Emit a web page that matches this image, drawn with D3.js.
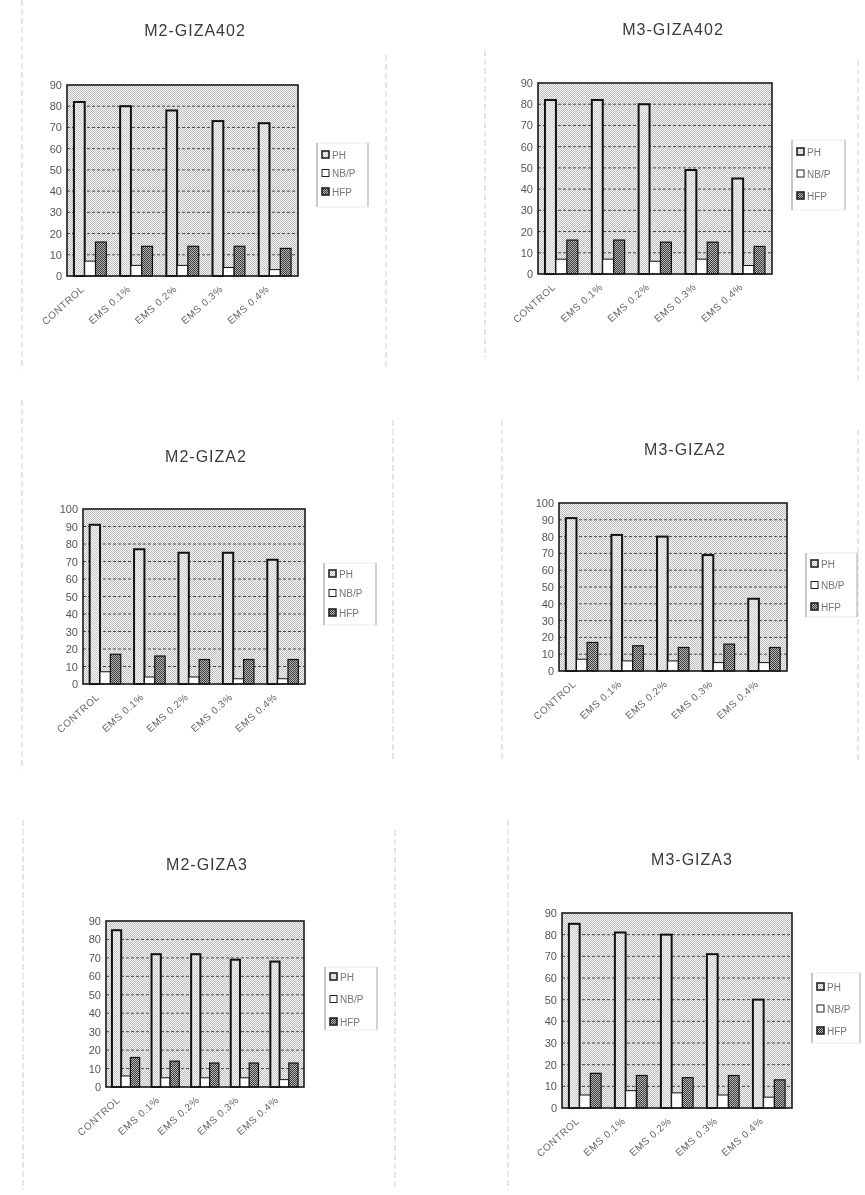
<!DOCTYPE html>
<html>
<head>
<meta charset="utf-8">
<script src="https://cdn.jsdelivr.net/npm/d3@7"></script>
<style>
  body { margin: 0; background: #fff; }
  svg { display: block; font-family: 'Liberation Sans', Arial, sans-serif; will-change: transform; }
</style>
</head>
<body>
<div id="chart"></div>
<script>
// categories and series
let categories = ['CONTROL', 'EMS 0.1%', 'EMS 0.2%', 'EMS 0.3%', 'EMS 0.4%']
let seriesNames = ['PH', 'NB/P', 'HFP']

// values
let m2Giza402PH = [82, 80, 78, 73, 72]
let m2Giza402NBP = [7, 5, 5, 4, 3]
let m2Giza402HFP = [16, 14, 14, 14, 13]

let m3Giza402PH = [82, 82, 80, 49, 45]
let m3Giza402NBP = [7, 7, 6, 7, 4]
let m3Giza402HFP = [16, 16, 15, 15, 13]

let m2Giza2PH = [91, 77, 75, 75, 71]
let m2Giza2NBP = [7, 4, 4, 3, 3]
let m2Giza2HFP = [17, 16, 14, 14, 14]

let m3Giza2PH = [91, 81, 80, 69, 43]
let m3Giza2NBP = [7, 6, 6, 5, 5]
let m3Giza2HFP = [17, 15, 14, 16, 14]

let m2Giza3PH = [85, 72, 72, 69, 68]
let m2Giza3NBP = [6, 5, 5, 5, 4]
let m2Giza3HFP = [16, 14, 13, 13, 13]

let m3Giza3PH = [85, 81, 80, 71, 50]
let m3Giza3NBP = [6, 8, 7, 6, 5]
let m3Giza3HFP = [16, 15, 14, 15, 13]

let titles = ['M2-GIZA402', 'M3-GIZA402', 'M2-GIZA2', 'M3-GIZA2', 'M2-GIZA3', 'M3-GIZA3']
let yMaxes = [90, 90, 100, 100, 90, 90]

let charts = [
  { title: titles[0], yMax: yMaxes[0], values: [m2Giza402PH, m2Giza402NBP, m2Giza402HFP] },
  { title: titles[1], yMax: yMaxes[1], values: [m3Giza402PH, m3Giza402NBP, m3Giza402HFP] },
  { title: titles[2], yMax: yMaxes[2], values: [m2Giza2PH, m2Giza2NBP, m2Giza2HFP] },
  { title: titles[3], yMax: yMaxes[3], values: [m3Giza2PH, m3Giza2NBP, m3Giza2HFP] },
  { title: titles[4], yMax: yMaxes[4], values: [m2Giza3PH, m2Giza3NBP, m2Giza3HFP] },
  { title: titles[5], yMax: yMaxes[5], values: [m3Giza3PH, m3Giza3NBP, m3Giza3HFP] }
]

// page layout of each little chart (plot box, title, legend)
let layout = [
  { box: [67, 298, 85, 276], title: [195, 36], legend: [317, 143, 51, 64, 12, 18.5] },
  { box: [538, 772, 83, 274], title: [673, 35], legend: [792, 140, 53, 70, 12, 22] },
  { box: [83, 305, 509, 684], title: [206, 462], legend: [324, 563, 52, 62, 11, 19.5] },
  { box: [559, 787, 503, 671], title: [685, 455], legend: [806, 553, 51, 64, 11, 21.5] },
  { box: [106, 304, 921, 1087], title: [207, 870], legend: [325, 967, 52, 63, 10, 22.5] },
  { box: [562, 792, 913, 1108], title: [692, 865], legend: [812, 973, 48, 70, 14, 22] }
]

// faint page frame lines from the scan
let frames = [
  [22, 0, 370], [386, 55, 370], [485, 50, 357], [858, 60, 380],
  [22, 400, 770], [393, 420, 760], [502, 420, 760], [858, 430, 760],
  [23, 820, 1190], [395, 830, 1190], [508, 820, 1190]
]

let svg = d3
  .select('#chart')
  .append('svg')
  .attr('width', 865)
  .attr('height', 1195)

let defs = svg.append('defs')

function checker(id, light, dark, size) {
  let p = defs
    .append('pattern')
    .attr('id', id)
    .attr('patternUnits', 'userSpaceOnUse')
    .attr('width', size * 2)
    .attr('height', size * 2)
  p.append('rect').attr('width', size * 2).attr('height', size * 2).attr('fill', light)
  p.append('rect').attr('width', size).attr('height', size).attr('fill', dark)
  p.append('rect').attr('x', size).attr('y', size).attr('width', size).attr('height', size).attr('fill', dark)
}
checker('bg-dots', '#f7f7f7', '#bdbdbd', 1)
checker('ph-dots', '#fafafa', '#c6c6c6', 1)
checker('hfp-hatch', '#b8b8b8', '#3a3a3a', 1)

let fills = { 'PH': 'url(#ph-dots)', 'NB/P': '#ffffff', 'HFP': 'url(#hfp-hatch)' }
let strokes = { 'PH': 2, 'NB/P': 1, 'HFP': 1.2 }

svg
  .selectAll('.frame')
  .data(frames)
  .enter()
  .append('line')
  .attr('class', 'frame')
  .attr('x1', d => d[0])
  .attr('x2', d => d[0])
  .attr('y1', d => d[1])
  .attr('y2', d => d[2])
  .attr('stroke', '#cfcfcf')
  .attr('stroke-width', 1)
  .attr('stroke-dasharray', '6,3')

charts.forEach((chart, i) => drawChart(chart, layout[i]))

function drawChart(chart, lay) {
  let [x0, x1, y0, y1] = lay.box
  let width = x1 - x0
  let height = y1 - y0

  let g = svg.append('g').attr('transform', 'translate(' + x0 + ',' + y0 + ')')

  let xPositionScale = d3
    .scaleBand()
    .domain(categories)
    .range([0, width])
    .paddingInner(0.3)
    .paddingOuter(0.15)

  let xSeriesScale = d3
    .scaleBand()
    .domain(seriesNames)
    .range([0, xPositionScale.bandwidth()])

  let yPositionScale = d3.scaleLinear().domain([0, chart.yMax]).range([height, 0])

  // plot background
  g.append('rect')
    .attr('width', width)
    .attr('height', height)
    .attr('fill', 'url(#bg-dots)')

  // dashed gridlines
  let gridTicks = d3.range(10, chart.yMax, 10)
  g.selectAll('.grid')
    .data(gridTicks)
    .enter()
    .append('line')
    .attr('class', 'grid')
    .attr('x1', 0)
    .attr('x2', width)
    .attr('y1', d => yPositionScale(d))
    .attr('y2', d => yPositionScale(d))
    .attr('stroke', '#4a4a4a')
    .attr('stroke-width', 1)
    .attr('stroke-dasharray', '3,2')

  // bars
  let rows = []
  categories.forEach((cat, ci) => {
    seriesNames.forEach((s, si) => {
      rows.push({ cat: cat, series: s, value: chart.values[si][ci] })
    })
  })

  g.selectAll('.bar')
    .data(rows)
    .enter()
    .append('rect')
    .attr('class', 'bar')
    .attr('x', d => xPositionScale(d.cat) + xSeriesScale(d.series))
    .attr('y', d => yPositionScale(d.value))
    .attr('width', xSeriesScale.bandwidth())
    .attr('height', d => height - yPositionScale(d.value))
    .attr('fill', d => fills[d.series])
    .attr('stroke', '#111')
    .attr('stroke-width', d => strokes[d.series])

  // plot border
  g.append('rect')
    .attr('width', width)
    .attr('height', height)
    .attr('fill', 'none')
    .attr('stroke', '#1a1a1a')
    .attr('stroke-width', 1.6)

  // y axis
  let yAxis = d3
    .axisLeft(yPositionScale)
    .tickValues(d3.range(0, chart.yMax + 1, 10))
    .tickSize(0)
    .tickPadding(5)
  let yg = g.append('g').attr('class', 'axis y-axis').call(yAxis)
  yg.select('.domain').remove()
  yg.selectAll('text')
    .attr('font-size', 11)
    .attr('fill', '#555')
    .attr('font-family', "'Liberation Sans', Arial, sans-serif")

  // rotated category labels
  g.selectAll('.cat-label')
    .data(categories)
    .enter()
    .append('text')
    .attr('class', 'cat-label')
    .attr('text-anchor', 'end')
    .attr('font-size', 10)
    .attr('letter-spacing', 0.6)
    .attr('fill', '#666')
    .attr('transform', d => {
      let cx = xPositionScale(d) + xPositionScale.bandwidth() / 2 - 5
      return 'translate(' + cx + ',' + (height + 14) + ') rotate(-42)'
    })
    .text(d => d)

  // title
  svg.append('text')
    .attr('x', lay.title[0])
    .attr('y', lay.title[1])
    .attr('text-anchor', 'middle')
    .attr('font-size', 16)
    .attr('letter-spacing', 1)
    .attr('fill', '#3a3a3a')
    .text(chart.title)

  // legend
  let [lx, ly, lw, lh, off, step] = lay.legend
  let lg = svg.append('g').attr('transform', 'translate(' + lx + ',' + ly + ')')
  lg.append('rect')
    .attr('width', lw)
    .attr('height', lh)
    .attr('fill', '#fff')
    .attr('stroke', '#ececec')
  lg.append('line').attr('x1', 0).attr('x2', 0).attr('y1', 0).attr('y2', lh).attr('stroke', '#999')
  lg.append('line').attr('x1', lw).attr('x2', lw).attr('y1', 0).attr('y2', lh).attr('stroke', '#b0b0b0')

  let items = lg.selectAll('.item')
    .data(seriesNames)
    .enter()
    .append('g')
    .attr('class', 'item')
    .attr('transform', (d, k) => 'translate(5,' + (off + k * step) + ')')
  items.append('rect')
    .attr('y', -4)
    .attr('width', 7)
    .attr('height', 7)
    .attr('fill', d => fills[d])
    .attr('stroke', '#222')
    .attr('stroke-width', d => (d === 'NB/P' ? 1 : 1.6))
  items.append('text')
    .attr('x', 10)
    .attr('y', 3.5)
    .attr('font-size', 10)
    .attr('fill', '#777')
    .text(d => d)
}
</script>
</body>
</html>
